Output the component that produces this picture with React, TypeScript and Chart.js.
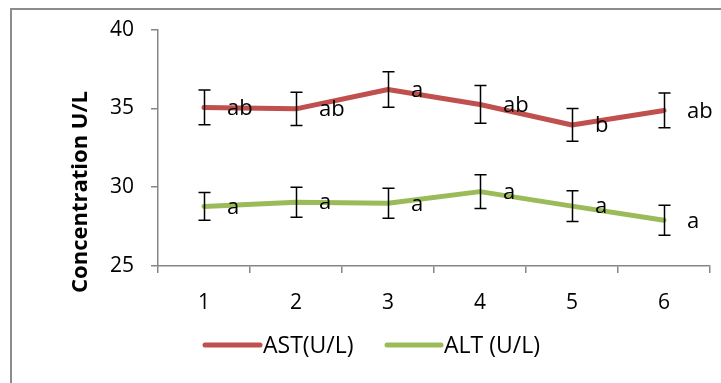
import React, { useEffect, useRef } from "react";
import { Chart, registerables } from "chart.js";

Chart.register(...registerables);

const categories = ["1", "2", "3", "4", "5", "6"];
const astValues = [35.06, 34.97, 36.2, 35.25, 33.95, 34.87];
const astErrors = [1.1, 1.05, 1.13, 1.2, 1.04, 1.1];
const altValues = [28.78, 29.05, 28.98, 29.72, 28.8, 27.9];
const altErrors = [0.88, 0.95, 0.95, 1.07, 0.97, 0.95];
const astLetters = ["ab", "ab", "a", "ab", "b", "ab"];
const altLetters = ["a", "a", "a", "a", "a", "a"];
const yMin = 25;
const yMax = 40;
const yStep = 5;
const seriesNames = ["AST(U/L)", "ALT (U/L)"];
const yTitle = "Concentration U/L";

const RED = "#C0504D";
const GREEN = "#9BBB59";
const AXIS = "#868686";
const FONT = "'Open Sans', 'Noto Sans', sans-serif";

const decorPlugin = {
  id: "decor",
  beforeDraw(chart: any) {
    const ctx = chart.ctx;
    ctx.save();
    ctx.fillStyle = "#fff";
    ctx.fillRect(0, 0, chart.width, chart.height);
    ctx.strokeStyle = "#8C8C8C";
    ctx.lineWidth = 2;
    ctx.strokeRect(11, 9, 800, 500);
    ctx.restore();
  },
  afterDatasetsDraw(chart: any) {
    const ctx = chart.ctx;
    const x = chart.scales.x;
    const y = chart.scales.y;
    const sets = [
      { v: astValues, e: astErrors, l: astLetters },
      { v: altValues, e: altErrors, l: altLetters },
    ];
    ctx.save();
    ctx.strokeStyle = "#000";
    ctx.lineWidth = 1.5;
    sets.forEach((s) => {
      s.v.forEach((val, i) => {
        const px = Math.round(x.getPixelForValue(i)) + 0.5;
        const top = y.getPixelForValue(val + s.e[i]);
        const bot = y.getPixelForValue(val - s.e[i]);
        ctx.beginPath();
        ctx.moveTo(px, top);
        ctx.lineTo(px, bot);
        ctx.moveTo(px - 6, top);
        ctx.lineTo(px + 6, top);
        ctx.moveTo(px - 6, bot);
        ctx.lineTo(px + 6, bot);
        ctx.stroke();
      });
    });
    ctx.fillStyle = "#000";
    ctx.font = `22px ${FONT}`;
    ctx.textAlign = "left";
    ctx.textBaseline = "middle";
    sets.forEach((s) => {
      s.v.forEach((val, i) => {
        const px = x.getPixelForValue(i);
        const py = y.getPixelForValue(val);
        ctx.fillText(s.l[i], px + 23, py + 1);
      });
    });
    // y axis title
    ctx.save();
    ctx.translate(81, 192);
    ctx.rotate(-Math.PI / 2);
    ctx.font = `bold 22px ${FONT}`;
    ctx.textAlign = "center";
    ctx.textBaseline = "middle";
    ctx.fillText(yTitle, 0, 0);
    ctx.restore();
    // legend
    const leg = [
      { c: RED, x0: 205, x1: 260, t: seriesNames[0] },
      { c: GREEN, x0: 387, x1: 441, t: seriesNames[1] },
    ];
    leg.forEach((g) => {
      ctx.strokeStyle = g.c;
      ctx.lineWidth = 5;
      ctx.lineCap = "round";
      ctx.beginPath();
      ctx.moveTo(g.x0, 345);
      ctx.lineTo(g.x1, 345);
      ctx.stroke();
      ctx.fillStyle = "#000";
      ctx.font = `23px ${FONT}`;
      ctx.textAlign = "left";
      ctx.textBaseline = "middle";
      ctx.fillText(g.t, g.x1 + 3, 346);
    });
    ctx.restore();
  },
};

export default function App() {
  const ref = useRef<HTMLCanvasElement | null>(null);
  useEffect(() => {
    if (!ref.current) return;
    const chart = new Chart(ref.current, {
      type: "line",
      data: {
        labels: categories,
        datasets: [
          {
            label: seriesNames[0],
            data: astValues,
            borderColor: RED,
            borderWidth: 5,
            pointRadius: 0,
            tension: 0,
            borderCapStyle: "round",
            borderJoinStyle: "round",
          },
          {
            label: seriesNames[1],
            data: altValues,
            borderColor: GREEN,
            borderWidth: 5,
            pointRadius: 0,
            tension: 0,
            borderCapStyle: "round",
            borderJoinStyle: "round",
          },
        ],
      },
      options: {
        responsive: false,
        animation: false,
        layout: { padding: { left: 0, top: 28, right: 11, bottom: 57 } },
        plugins: { legend: { display: false }, tooltip: { enabled: false } },
        scales: {
          x: {
            type: "category",
            offset: true,
            grid: {
              offset: true,
              drawOnChartArea: false,
              drawTicks: true,
              tickLength: 7,
              color: AXIS,
              lineWidth: 1.5,
            },
            border: { display: true, color: AXIS, width: 1.5 },
            ticks: { color: "#000", font: { family: FONT, size: 21 }, padding: 17 },
            afterFit: (s: any) => {
              s.height = 60;
            },
          },
          y: {
            min: yMin,
            max: yMax,
            ticks: { stepSize: yStep, color: "#000", font: { family: FONT, size: 21 }, padding: 17 },
            grid: {
              drawOnChartArea: false,
              drawTicks: true,
              tickLength: 7,
              color: AXIS,
              lineWidth: 1.5,
            },
            border: { display: true, color: AXIS, width: 1.5 },
            afterFit: (s: any) => {
              s.width = 158;
            },
          },
        },
      },
      plugins: [decorPlugin],
    });
    return () => chart.destroy();
  }, []);
  return (
    <div style={{ position: "fixed", left: 0, top: 0, width: 721, height: 383 }}>
      <canvas ref={ref} width={721} height={383} style={{ width: 721, height: 383, display: "block" }} />
    </div>
  );
}
